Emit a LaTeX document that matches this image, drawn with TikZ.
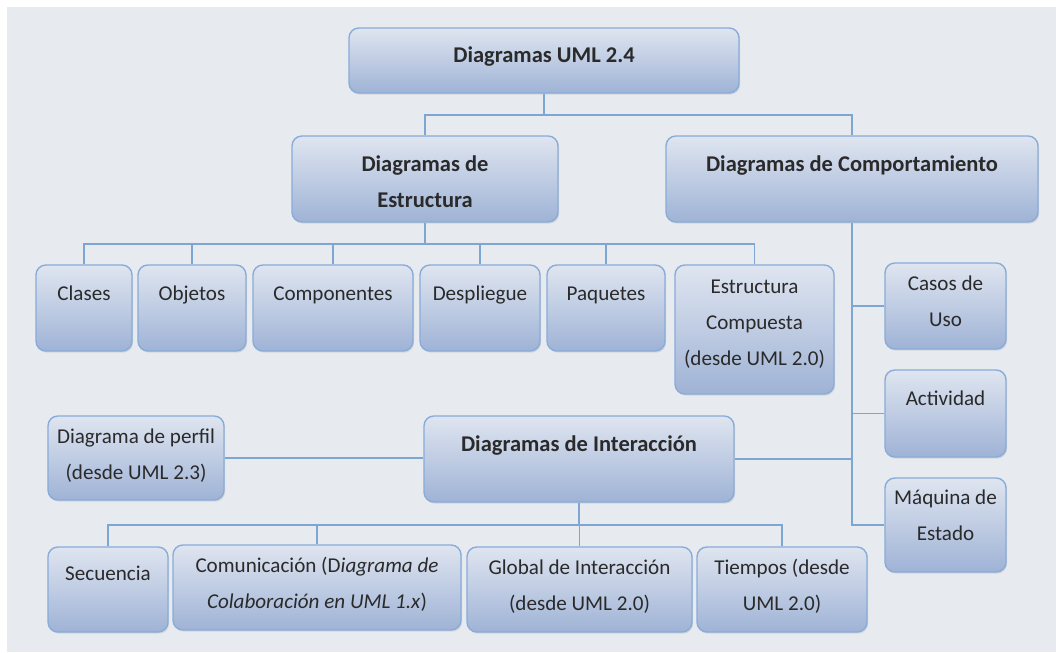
\documentclass[tikz,border=0pt]{standalone}
\usepackage{fontspec}
\setmainfont{Carlito}
\usetikzlibrary{positioning,calc,fit,shadows}

\definecolor{bgpanel}{HTML}{E7EAEF}
\definecolor{boxtop}{HTML}{DFE5F0}
\definecolor{boxbot}{HTML}{9FB3D6}
\definecolor{boxline}{HTML}{88ACD8}
\definecolor{linkline}{HTML}{7EA6D3}
\definecolor{txt}{HTML}{2A2A2A}

\begin{document}
\begin{tikzpicture}[x=0.025cm,y=-0.025cm]

	\tikzstyle umlbox=[draw=boxline, line width=1pt, rounded corners=7pt, top color=boxtop, bottom color=boxbot, inner sep=0pt, drop shadow={opacity=0.18, shadow xshift=0.8pt, shadow yshift=-1.2pt}];
	\tikzstyle umltext=[text=txt, align=center, inner sep=0pt, anchor=base, font=\fontsize{15}{25.6}\selectfont];
	\tikzstyle umlhead=[umltext, font=\fontsize{16}{25.6}\selectfont\bfseries];
	\tikzstyle link=[draw=linkline, line width=1.4pt];

	\useasboundingbox (0,0) rectangle (1056,652);
	\fill[white] (0,0) rectangle (1056,652);
	\fill[bgpanel] (7,7) rectangle (1056,652);

	% headers (\d = baseline of the last line)
	\foreach \n/\xa/\ya/\xb/\yb/\d/\lbl in {uml/349/28/739/93/35/{Diagramas UML 2.4},
		estr/292/136/558/222/72/{Diagramas de\\Estructura},
		comp/666/136/1038/222/36/{Diagramas de Comportamiento},
		inter/424/416/734/502/36/{Diagramas de Interacción}}
	{
		\node[umlbox, fit={(\xa,\ya) (\xb,\yb)}] (\n) {};
		\node[umlhead] (\n-t) at ($(\n.north)+(0,\d)$) {\lbl};
	}

	% leaves
	\foreach \n/\xa/\ya/\xb/\yb/\d/\lbl in {clases/36/265/132/351/36/{Clases},
		objetos/138/265/246/351/36/{Objetos},
		componentes/253/265/413/351/36/{Componentes},
		despliegue/420/265/540/351/36/{Despliegue},
		paquetes/547/265/665/351/36/{Paquetes},
		estcomp/675/265/834/394/101/{Estructura\\Compuesta\\(desde UML 2.0)},
		casos/885/263/1006/349/64/{Casos de\\Uso},
		actividad/885/370/1006/457/36/{Actividad},
		maquina/885/478/1006/572/63/{Máquina de\\Estado},
		perfil/48/416/224/500/64/{Diagrama de perfil\\(desde UML 2.3)},
		secuencia/48/547/168/632/34/{Secuencia},
		comunic/173/545/461/630/64/{Comunicación (D\textit{iagrama de}\\\textit{Colaboración en UML 1.x})},
		global/467/547/692/632/64/{Global de Interacción\\(desde UML 2.0)},
		tiempos/697/547/867/632/64/{Tiempos (desde\\UML 2.0)}}
	{
		\node[umlbox, fit={(\xa,\ya) (\xb,\yb)}] (\n) {};
		\node[umltext] (\n-t) at ($(\n.north)+(0,\d)$) {\lbl};
	}

	\coordinate (topbus) at ($(uml.south)+(0,21)$);
	\draw[link] (uml.south) -- (topbus);
	\draw[link] (estr.north) |- (topbus);
	\draw[link] (comp.north) |- (topbus);

	\coordinate (estbus) at ($(estr.south)+(0,21)$);
	\draw[link] (estr.south) -- (estbus);
	\foreach \c in {clases,objetos,componentes,despliegue,paquetes,estcomp}
		\draw[link] (\c.north) |- (estbus);

	\draw[link] (comp.south) |- (maquina.west);
	\foreach \c in {casos,actividad}
		\draw[link] (\c.west) -- (\c.west -| comp.south);
	\draw[link] (inter.east) -- (inter.east -| comp.south);
	\draw[link] (perfil.east) -- (perfil.east -| inter.west);

	\coordinate (intbus) at ($(inter.south)+(0,22)$);
	\draw[link] (inter.south) -- (intbus);
	\foreach \c in {secuencia,comunic,global,tiempos}
		\draw[link] (\c.north) |- (intbus);

\end{tikzpicture}
\end{document}
